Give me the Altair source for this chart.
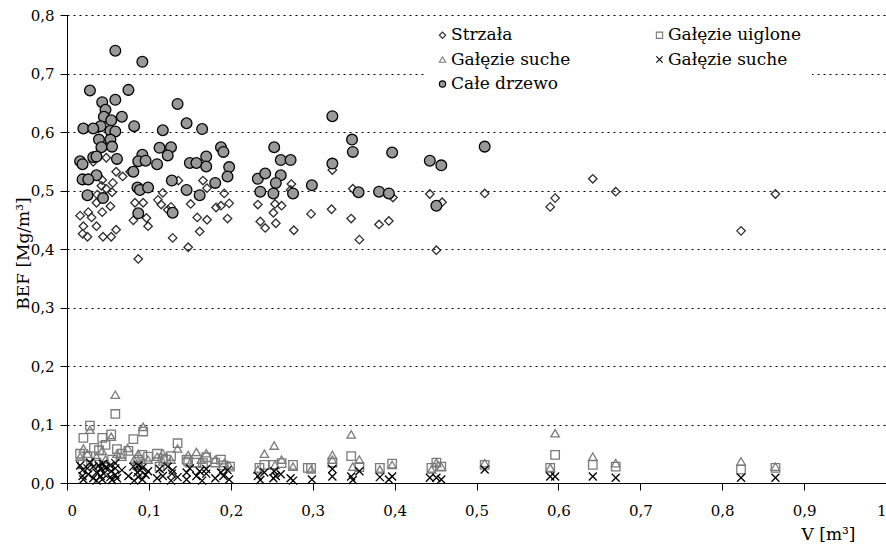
import altair as alt
import pandas as pd

# ---- series keys / legend labels ----
series_keys = ["s1", "s2", "s3", "s4", "s5"]
series_labels = ["Strzała", "Gałęzie uiglone", "Gałęzie suche", "Gałęzie suche", "Całe drzewo"]

# ---- Strzała (diamonds) ----
strzala_v = [0.048, 0.060, 0.068, 0.043, 0.056, 0.042, 0.048, 0.055, 0.037, 0.036,
             0.043, 0.053, 0.016, 0.026, 0.030, 0.020, 0.036, 0.019, 0.025, 0.044,
             0.054, 0.060, 0.083, 0.093, 0.081, 0.097, 0.099, 0.087, 0.111, 0.115,
             0.136, 0.166, 0.171, 0.117, 0.192, 0.127, 0.123, 0.151, 0.188, 0.198,
             0.182, 0.159, 0.171, 0.196, 0.162, 0.129, 0.148, 0.233, 0.254, 0.262,
             0.252, 0.236, 0.242, 0.255, 0.277, 0.274, 0.273, 0.032, 0.077, 0.324,
             0.298, 0.323, 0.347, 0.349, 0.357, 0.381, 0.393, 0.398, 0.443, 0.458,
             0.451, 0.510, 0.590, 0.596, 0.642, 0.670, 0.823, 0.865]
strzala_bef = [0.556, 0.532, 0.524, 0.518, 0.513, 0.508, 0.503, 0.497, 0.493, 0.479,
               0.463, 0.473, 0.457, 0.463, 0.454, 0.439, 0.439, 0.426, 0.421, 0.421,
               0.421, 0.433, 0.479, 0.479, 0.449, 0.453, 0.439, 0.383, 0.484, 0.476,
               0.517, 0.517, 0.504, 0.496, 0.495, 0.472, 0.467, 0.477, 0.474, 0.478,
               0.471, 0.454, 0.450, 0.452, 0.430, 0.419, 0.403, 0.476, 0.477, 0.474,
               0.462, 0.447, 0.436, 0.444, 0.432, 0.511, 0.501, 0.549, 0.532, 0.535,
               0.460, 0.468, 0.452, 0.503, 0.416, 0.442, 0.448, 0.488, 0.494, 0.480,
               0.398, 0.495, 0.472, 0.487, 0.520, 0.498, 0.431, 0.494]

# ---- Gałęzie uiglone (squares) ----
uiglone_v = [0.028, 0.059, 0.020, 0.043, 0.054, 0.081, 0.093, 0.039, 0.135, 0.092,
             0.188, 0.199, 0.121, 0.148, 0.166, 0.016, 0.025, 0.033, 0.047, 0.061,
             0.067, 0.075, 0.087, 0.099, 0.110, 0.117, 0.127, 0.146, 0.158, 0.170,
             0.181, 0.191, 0.036, 0.045, 0.055, 0.019, 0.086, 0.113, 0.235, 0.241,
             0.262, 0.276, 0.252, 0.294, 0.298, 0.324, 0.347, 0.357, 0.382, 0.397,
             0.445, 0.451, 0.457, 0.510, 0.596, 0.590, 0.642, 0.670, 0.823, 0.865]
uiglone_bef = [0.098, 0.118, 0.077, 0.077, 0.083, 0.075, 0.088, 0.056, 0.068, 0.048,
               0.040, 0.028, 0.040, 0.037, 0.034, 0.050, 0.045, 0.060, 0.065, 0.058,
               0.050, 0.055, 0.040, 0.045, 0.050, 0.042, 0.046, 0.040, 0.035, 0.044,
               0.035, 0.030, 0.035, 0.030, 0.040, 0.032, 0.030, 0.028, 0.026, 0.031,
               0.034, 0.031, 0.031, 0.026, 0.026, 0.035, 0.046, 0.027, 0.026, 0.033,
               0.026, 0.035, 0.028, 0.031, 0.048, 0.026, 0.031, 0.028, 0.023, 0.026]

# ---- Gałęzie suche (triangles) ----
suche_v = [0.059, 0.028, 0.054, 0.093, 0.020, 0.074, 0.135, 0.117, 0.148, 0.158,
           0.170, 0.150, 0.164, 0.192, 0.117, 0.016, 0.025, 0.036, 0.043, 0.047,
           0.061, 0.067, 0.082, 0.087, 0.099, 0.110, 0.127, 0.181, 0.198, 0.032,
           0.089, 0.233, 0.241, 0.253, 0.254, 0.262, 0.276, 0.298, 0.324, 0.324,
           0.347, 0.349, 0.357, 0.382, 0.397, 0.445, 0.451, 0.457, 0.510, 0.596,
           0.590, 0.642, 0.670, 0.823, 0.865]
suche_bef = [0.151, 0.091, 0.079, 0.096, 0.059, 0.060, 0.059, 0.051, 0.048, 0.053,
             0.051, 0.034, 0.040, 0.034, 0.037, 0.045, 0.050, 0.045, 0.055, 0.040,
             0.050, 0.045, 0.040, 0.050, 0.040, 0.045, 0.040, 0.040, 0.030, 0.036,
             0.032, 0.023, 0.050, 0.064, 0.031, 0.040, 0.028, 0.023, 0.048, 0.040,
             0.083, 0.028, 0.040, 0.023, 0.031, 0.023, 0.035, 0.028, 0.034, 0.085,
             0.026, 0.045, 0.034, 0.037, 0.028]

# ---- Gałęzie suche (crosses) ----
krzyz_v = [0.016, 0.019, 0.019, 0.020, 0.025, 0.026, 0.028, 0.032, 0.032, 0.036,
           0.036, 0.039, 0.041, 0.042, 0.043, 0.044, 0.045, 0.047, 0.053, 0.053,
           0.054, 0.055, 0.059, 0.059, 0.059, 0.061, 0.067, 0.075, 0.081, 0.082,
           0.086, 0.087, 0.087, 0.089, 0.092, 0.092, 0.096, 0.099, 0.110, 0.113,
           0.117, 0.123, 0.127, 0.128, 0.129, 0.135, 0.146, 0.146, 0.150, 0.158,
           0.162, 0.165, 0.170, 0.170, 0.181, 0.188, 0.191, 0.196, 0.198,
           0.233, 0.236, 0.241, 0.252, 0.253, 0.255, 0.261, 0.273, 0.276, 0.299,
           0.324, 0.324, 0.347, 0.349, 0.357, 0.382, 0.393, 0.397, 0.443, 0.451,
           0.457, 0.510, 0.590, 0.596, 0.642, 0.670, 0.823, 0.865]
krzyz_bef = [0.030, 0.012, 0.022, 0.006, 0.025, 0.015, 0.035, 0.008, 0.028, 0.018,
             0.004, 0.030, 0.012, 0.024, 0.006, 0.033, 0.016, 0.026, 0.010, 0.030,
             0.020, 0.005, 0.034, 0.014, 0.025, 0.008, 0.022, 0.012, 0.028, 0.004,
             0.018, 0.030, 0.010, 0.022, 0.006, 0.026, 0.014, 0.020, 0.008, 0.024,
             0.012, 0.028, 0.004, 0.016, 0.022, 0.010, 0.018, 0.006, 0.025, 0.012,
             0.020, 0.004, 0.016, 0.024, 0.008, 0.018, 0.012, 0.022, 0.006,
             0.012, 0.005, 0.018, 0.008, 0.020, 0.012, 0.015, 0.008, 0.004, 0.006,
             0.024, 0.011, 0.011, 0.005, 0.020, 0.010, 0.006, 0.011, 0.009, 0.009,
             0.006, 0.023, 0.011, 0.011, 0.011, 0.009, 0.009, 0.009]

# ---- Całe drzewo (circles) ----
cale_v = [0.059, 0.092, 0.028, 0.075, 0.043, 0.059, 0.047, 0.045, 0.067, 0.054,
          0.135, 0.082, 0.041, 0.020, 0.032, 0.053, 0.059, 0.117, 0.146, 0.165,
          0.039, 0.053, 0.042, 0.055, 0.061, 0.032, 0.036, 0.016, 0.019, 0.113,
          0.127, 0.123, 0.092, 0.087, 0.096, 0.110, 0.150, 0.158, 0.170, 0.170,
          0.188, 0.191, 0.198, 0.196, 0.181, 0.081, 0.036, 0.019, 0.026, 0.128,
          0.086, 0.089, 0.099, 0.146, 0.162, 0.025, 0.044, 0.087, 0.129, 0.233,
          0.242, 0.253, 0.261, 0.273, 0.261, 0.255, 0.236, 0.252, 0.276, 0.299,
          0.324, 0.324, 0.348, 0.349, 0.356, 0.381, 0.393, 0.397, 0.443, 0.457,
          0.451, 0.510]
cale_bef = [0.739, 0.720, 0.671, 0.672, 0.651, 0.655, 0.638, 0.626, 0.626, 0.620,
            0.648, 0.610, 0.610, 0.606, 0.606, 0.602, 0.601, 0.603, 0.615, 0.605,
            0.587, 0.587, 0.574, 0.575, 0.554, 0.557, 0.558, 0.550, 0.545, 0.573,
            0.574, 0.560, 0.561, 0.550, 0.551, 0.545, 0.547, 0.547, 0.558, 0.541,
            0.574, 0.566, 0.540, 0.524, 0.513, 0.532, 0.526, 0.519, 0.519, 0.517,
            0.505, 0.501, 0.505, 0.501, 0.492, 0.492, 0.487, 0.461, 0.462, 0.520,
            0.529, 0.574, 0.552, 0.552, 0.526, 0.513, 0.498, 0.495, 0.495, 0.509,
            0.627, 0.546, 0.587, 0.566, 0.497, 0.498, 0.495, 0.565, 0.551, 0.543,
            0.474, 0.575]

x_ticks = [0.0, 0.1, 0.2, 0.3, 0.4, 0.5, 0.6, 0.7, 0.8, 0.9, 1.0]
y_ticks = [0.0, 0.1, 0.2, 0.3, 0.4, 0.5, 0.6, 0.7, 0.8]

# ---- build table (draw order = legend order) ----
frames = []
for key, vs, bs in zip(series_keys,
                       [strzala_v, uiglone_v, suche_v, krzyz_v, cale_v],
                       [strzala_bef, uiglone_bef, suche_bef, krzyz_bef, cale_bef]):
    frames.append(pd.DataFrame({"V": vs, "BEF": bs, "series": key}))
df = pd.concat(frames, ignore_index=True)

label_expr = ""
for k, lab in zip(series_keys[:-1], series_labels[:-1]):
    label_expr += f"datum.label == '{k}' ? '{lab}' : "
label_expr += f"'{series_labels[-1]}'"

FONT = "DejaVu Serif"
cross_path = "M-1,-1L1,1M-1,1L1,-1"

legend = alt.Legend(orient="none", legendX=357, legendY=1.5, direction="horizontal",
                    columns=2, columnPadding=80, rowPadding=6.5,
                    labelExpr=label_expr, labelFont=FONT, labelFontSize=17,
                    labelColor="black", labelOffset=0,
                    symbolSize=40, symbolStrokeWidth=1.1,
                    fillColor="white", padding=10)

base = alt.Chart(df).encode(
    x=alt.X("V:Q",
            scale=alt.Scale(domain=[0, 1], nice=False, zero=True),
            axis=alt.Axis(values=x_ticks, grid=False, tickSize=7,
                          labelExpr="datum.value == 0 ? '0' : datum.value == 1 ? '1' : replace(format(datum.value, '.1f'), '.', ',')",
                          labelPadding=13,
                          title="V [m³]",
                          titleX=761, titleY=56, titleAlign="center",
                          titleBaseline="alphabetic")),
    y=alt.Y("BEF:Q",
            scale=alt.Scale(domain=[0, 0.8], nice=False),
            axis=alt.Axis(values=y_ticks, grid=True, gridColor="black", gridDash=[2, 4],
                          gridWidth=1, tickSize=7,
                          labelExpr="replace(format(datum.value, '.1f'), '.', ',')",
                          labelPadding=6,
                          title="BEF [Mg/m³]",
                          titleX=-44, titleY=238, titleAngle=270,
                          titleAlign="center", titleBaseline="middle")),
    shape=alt.Shape("series:N",
                    scale=alt.Scale(domain=series_keys,
                                    range=["diamond", "square", "triangle-up", cross_path, "circle"]),
                    legend=legend, title=None),
    stroke=alt.Stroke("series:N",
                      scale=alt.Scale(domain=series_keys,
                                      range=["#2e2e2e", "#7a7a7a", "#7a7a7a", "#000000", "#000000"]),
                      legend=legend, title=None),
    fill=alt.Fill("series:N",
                  scale=alt.Scale(domain=series_keys,
                                  range=["transparent", "transparent", "transparent", "transparent", "#999999"]),
                  legend=legend, title=None),
)

open_marks = base.mark_point(opacity=1, strokeWidth=1.3, size=72).transform_filter(
    (alt.datum.series != "s5") & (alt.datum.series != "s4"))
crosses = base.mark_point(opacity=1, strokeWidth=1.3, size=64).transform_filter(
    alt.datum.series == "s4")
circles = base.mark_point(opacity=1, strokeWidth=1.3, size=115).transform_filter(
    alt.datum.series == "s5")

chart = alt.layer(open_marks, crosses, circles).properties(
    width=819, height=468,
    autosize=alt.AutoSizeParams(type="none"),
    padding={"left": 67, "top": 15, "right": 0, "bottom": 64},
    background="white",
).configure(
    font=FONT,
).configure_view(
    stroke=None,
).configure_axis(
    labelFont=FONT, labelFontSize=15, labelColor="black",
    titleFont=FONT, titleFontSize=17, titleFontWeight="normal", titleColor="black",
    tickColor="black", domainColor="black",
).configure_legend(
    labelFont=FONT,
)

chart.save("out.html", embed_options={"renderer": "svg", "actions": False})
